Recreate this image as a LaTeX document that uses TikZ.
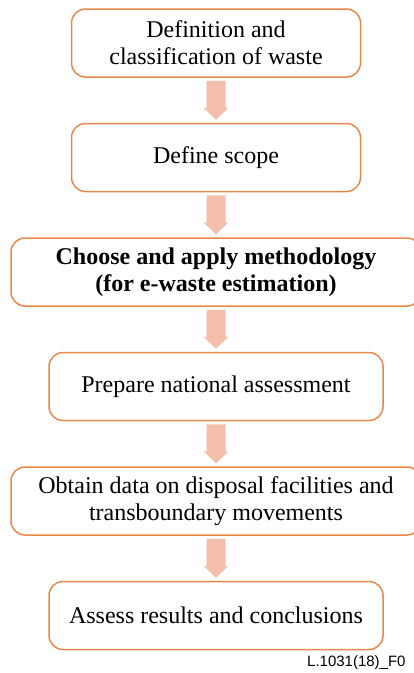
\documentclass[tikz,border=0pt]{standalone}
\usepackage{fontspec}
\setmainfont{Liberation Serif}
\newfontfamily\labelfont{Liberation Sans}
\usepackage{xcolor}
\usepackage{tikz}
\usetikzlibrary{positioning, calc}

\definecolor{boxline}{HTML}{E8874A}
\definecolor{arrowfill}{HTML}{F4BEAA}

\begin{document}
\begin{tikzpicture}[
    x=1pt, y=1pt,
    node distance=45pt,
    box/.style={rectangle, rounded corners=14pt, draw=boxline, line width=1.5pt, minimum height=68pt, align=center, font=\fontsize{24}{27}\selectfont},
    flow/.style={fill=arrowfill}
]
\useasboundingbox (0,0) rectangle (414,-673);

\node[box, minimum width=289pt] (waste) at (216,-43) {Definition and\\classification of waste};
\node[box, minimum width=289pt, below=of waste] (scope) {Define scope};
\node[box, minimum width=410pt, below=of scope] (method) {\textbf{Choose and apply methodology}\\\textbf{(for e-waste estimation)}};
\node[box, minimum width=334pt, below=of method] (national) {Prepare national assessment};
\node[box, minimum width=410pt, below=of national] (data) {Obtain data on disposal facilities and\\transboundary movements};
\node[box, minimum width=334pt, below=of data] (results) {Assess results and conclusions};

% block arrows between the steps
\foreach \a/\b in {waste/scope, scope/method, method/national, national/data, data/results}
  \fill[flow] ($(\a.south)+(-9.5,-3)$) -- ($(\a.south)+(9.5,-3)$) -- ($(\b.north)+(9.5,15)$)
    -- ($(\b.north)+(12.5,15)$) -- ($(\b.north)+(0,3)$) -- ($(\b.north)+(-12.5,15)$)
    -- ($(\b.north)+(-9.5,15)$) -- cycle;

\node[anchor=base west, inner sep=0pt, font=\labelfont\fontsize{15}{17}\selectfont] (figid) at (307,-666) {L.1031(18)\_F0};

\end{tikzpicture}
\end{document}
